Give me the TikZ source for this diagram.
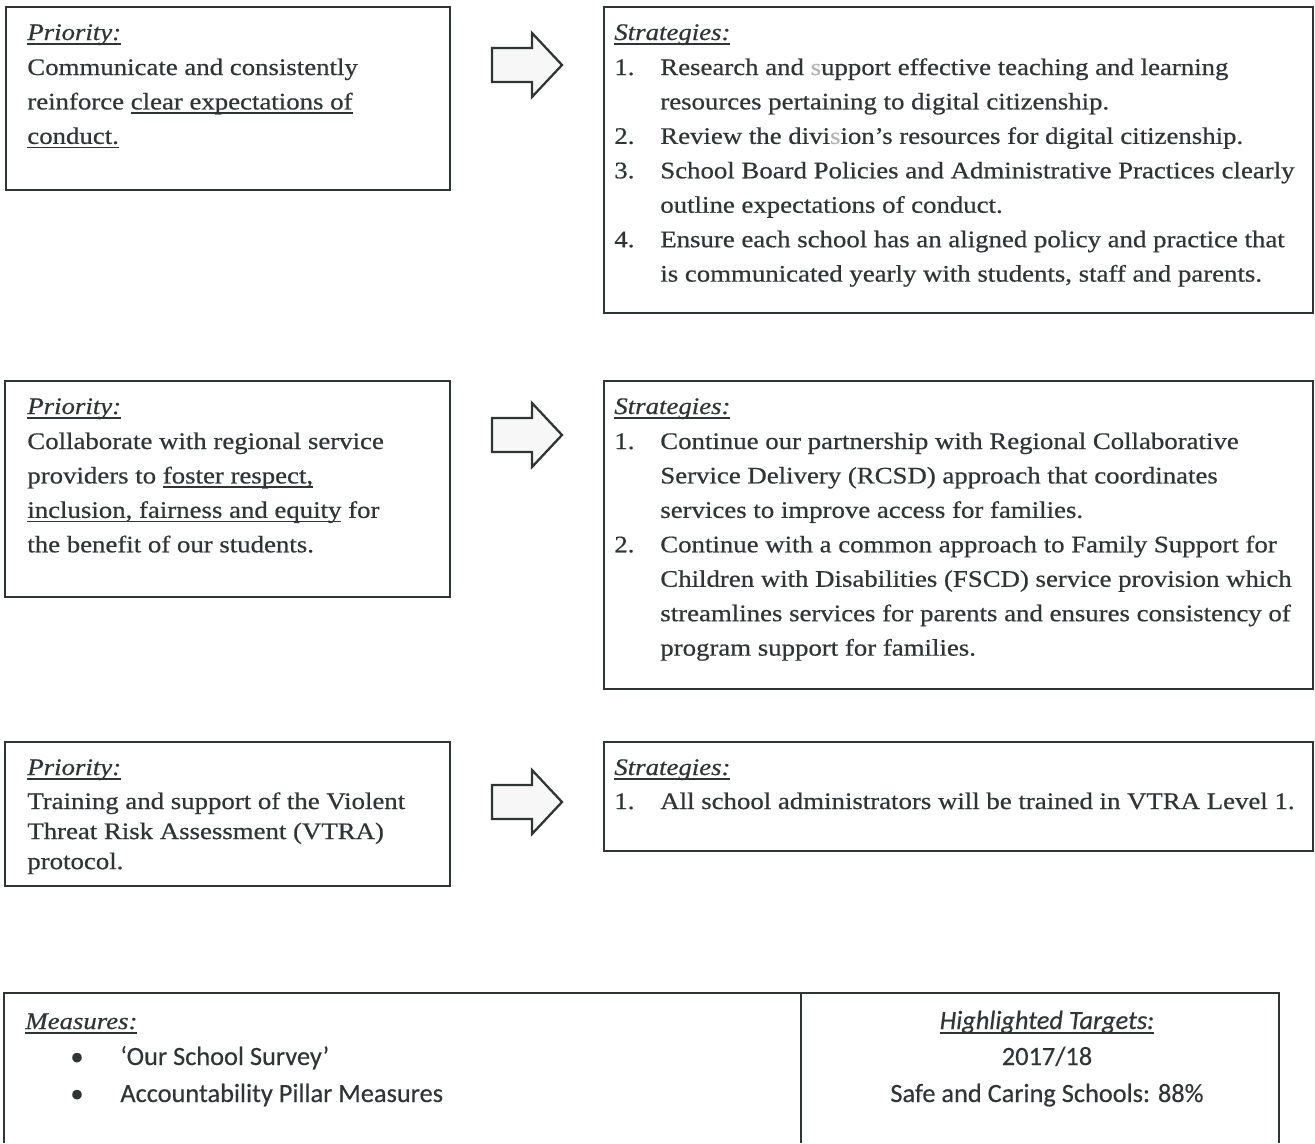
\documentclass[tikz,border=0pt]{standalone}
\usepackage{fontspec}
\setmainfont[FakeStretch=1.13,FakeBold=0.6]{Liberation Serif}
\newfontfamily\calibrifont[FakeBold=0.4]{Carlito}
\usetikzlibrary{positioning}

\definecolor{inkgray}{HTML}{2F3535}
\newcommand\bodyfont{\fontsize{13.5}{19.6}\selectfont}
\newcommand\tightfont{\fontsize{13.5}{17.1}\selectfont}
\newcommand\tablefont{\calibrifont\fontsize{15}{20}\selectfont}
% underline at a fixed depth, as a word processor draws it
\newcommand\uline[1]{\setbox0\hbox{#1}\rlap{\rule[-2.6pt]{\wd0}{1pt}}\box0\relax}

\begin{document}
\begin{tikzpicture}[
    x=0.02cm, y=-0.02cm,
    panel/.style={
      draw=inkgray,
      line width=1.3pt
    },
    heading/.style={
      anchor=base west,
      inner sep=0pt,
      text=inkgray,
      font=\bodyfont\itshape
    },
    bodytext/.style={
      anchor=base west,
      inner sep=0pt,
      text=inkgray,
      font=\bodyfont
    },
    tabletext/.style={
      anchor=base west,
      inner sep=0pt,
      text=inkgray,
      font=\tablefont
    },
    blockarrow/.style={
      draw=inkgray,
      line width=1.3pt,
      fill=gray!6,
      line join=miter
    }
  ]
    \useasboundingbox (0,0) rectangle (1315,1143);

    % First priority
    \draw[panel] (6,7) rectangle (450,190);
    \node[heading] (prione) at (27,40) {\uline{Priority:}};
    \node[bodytext] (prionetext) at (27,75) {\begin{tabular}[t]{@{}l@{}}
      Communicate and consistently\\
      reinforce \uline{clear expectations of}\\
      \uline{conduct.}
    \end{tabular}};

    % First strategies
    \draw[panel] (604,7) rectangle (1313,313);
    \node[heading] (strone) at (614,40) {\uline{Strategies:}};
    \node[bodytext] (stronetext) at (614,75) {\begin{tabular}[t]{@{}p{0.92cm}@{}l@{}}
      1. & Research and \textcolor{gray!60}{s}upport effective teaching and learning\\
         & resources pertaining to digital citizenship.\\
      2. & Review the divi\textcolor{gray!60}{s}ion's resources for digital citizenship.\\
      3. & School Board Policies and Administrative Practices clearly\\
         & outline expectations of conduct.\\
      4. & Ensure each school has an aligned policy and practice that\\
         & is communicated yearly with students, staff and parents.
    \end{tabular}};

    % Second priority
    \draw[panel] (5,381) rectangle (450,597);
    \node[heading] (pritwo) at (27,414) {\uline{Priority:}};
    \node[bodytext] (pritwotext) at (27,449) {\begin{tabular}[t]{@{}l@{}}
      Collaborate with regional service\\
      providers to \uline{foster respect,}\\
      \uline{inclusion, fairness and equity} for\\
      the benefit of our students.
    \end{tabular}};

    % Second strategies
    \draw[panel] (604,381) rectangle (1313,689);
    \node[heading] (strtwo) at (614,414) {\uline{Strategies:}};
    \node[bodytext] (strtwotext) at (614,449) {\begin{tabular}[t]{@{}p{0.92cm}@{}l@{}}
      1. & Continue our partnership with Regional Collaborative\\
         & Service Delivery (RCSD) approach that coordinates\\
         & services to improve access for families.\\
      2. & Continue with a common approach to Family Support for\\
         & Children with Disabilities (FSCD) service provision which\\
         & streamlines services for parents and ensures consistency of\\
         & program support for families.
    \end{tabular}};

    % Third priority
    \draw[panel] (5,742) rectangle (450,886);
    \node[heading] (prithree) at (27,775) {\uline{Priority:}};
    \node[bodytext, font=\tightfont] (prithreetext) at (27,809) {\begin{tabular}[t]{@{}l@{}}
      Training and support of the Violent\\
      Threat Risk Assessment (VTRA)\\
      protocol.
    \end{tabular}};

    % Third strategies
    \draw[panel] (604,742) rectangle (1313,851);
    \node[heading] (strthree) at (614,775) {\uline{Strategies:}};
    \node[bodytext] (strthreetext) at (614,809) {\begin{tabular}[t]{@{}p{0.92cm}@{}l@{}}
      1. & All school administrators will be trained in VTRA Level 1.
    \end{tabular}};

    % Block arrows between the columns
    \foreach \cy in {65,435,802} {
      \draw[blockarrow] (492,\cy-17) -- (532,\cy-17) -- (532,\cy-32) -- (562,\cy)
        -- (532,\cy+32) -- (532,\cy+17) -- (492,\cy+17) -- cycle;
    }

    % Measures and targets table
    \draw[panel] (4,1143) -- (4,993) -- (1279,993) -- (1279,1143);
    \draw[panel] (801,993) -- (801,1143);
    \node[heading] (meas) at (25,1029) {\uline{Measures:}};
    \node[tabletext, anchor=base] (bulletone) at (77,1065) {•};
    \node[tabletext] (measone) at (120,1065) {‘Our School Survey’};
    \node[tabletext, anchor=base] (bullettwo) at (77,1102) {•};
    \node[tabletext] (meastwo) at (120,1102) {Accountability Pillar Measures};
    \node[tabletext, anchor=base] (targ) at (1047,1029) {\itshape\uline{Highlighted Targets:}};
    \node[tabletext, anchor=base] (targyear) at (1047,1065) {2017/18};
    \node[tabletext, anchor=base] (targsafe) at (1047,1102) {Safe and Caring Schools: 88\%};

  \end{tikzpicture}
\end{document}
